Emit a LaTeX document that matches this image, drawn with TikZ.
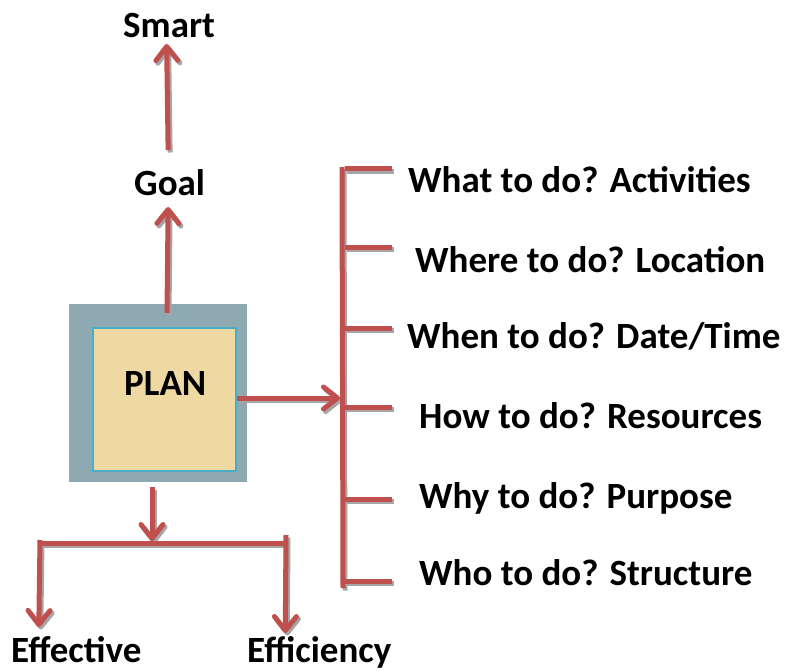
\documentclass[tikz,border=0pt]{standalone}
\usepackage{fontspec}
\setmainfont{Carlito}
\usetikzlibrary{arrows.meta,calc}
\definecolor{lnred}{HTML}{C0504D}
\definecolor{shad}{HTML}{A6A6A6}
\definecolor{outerc}{HTML}{8EA9B1}
\definecolor{paper}{HTML}{EFD9A3}
\definecolor{bord}{HTML}{4BACC6}
\tikzset{
  lbl/.style={anchor=base west, inner sep=0pt, font=\fontsize{37}{42}\selectfont\bfseries},
  ln/.style={line width=5pt, lnc},
  lnc/.style={draw=lnred},
  arr/.style={-{Straight Barb[length=14pt,width=22pt,round]}},
}
\newcommand\allconns{%
  \draw[ln,arr] ($(goal.base)+(-1.5,-45)$) -- ($(smart.base)+(-2.5,6)$);
  \draw[ln,arr] ($(outer.north)+(9,9)$) -- ($(goal.base)+(-1.5,12)$);
  \draw[ln,arr] ($(plan.east)+(0,-1.5)$) -- (brIn);
  \draw[ln] (brTop) -- (brBot);
  \foreach \i in {1,...,6}{\draw[ln] (tkA\i) -- (tkB\i);}
  \draw[ln,arr] ($(outer.south)+(-6,5)$) -- (split);
  \draw[ln] (barL) -- (barR);
  \draw[ln,arr] (barLt) -- ($(effective.base)+(-37.5,-35)$);
  \draw[ln,arr] (barRt) -- ($(efficiency.base)+(-34,-29)$);
}
\begin{document}
\begin{tikzpicture}[x=1pt,y=-1pt]
\useasboundingbox (0,0) rectangle (786,671);
% boxes
\node[fill=outerc, minimum width=178pt, minimum height=178pt, inner sep=0pt] (outer) at (158,393) {};
\node[fill=paper, draw=bord, line width=2.5pt, minimum width=143pt, minimum height=143pt, inner sep=0pt] (plan) at (164.5,399.5) {};
\node[lbl] (plantext) at (124,395) {PLAN};
% labels
\node[lbl] (smart) at (123,38) {Smart};
\node[lbl] (goal) at (134,195) {Goal};
\node[lbl] (t1) at (408,192) {What to do? Activities};
\node[lbl] (t2) at (415,272) {Where to do? Location};
\node[lbl] (t3) at (407,348) {When to do? Date/Time};
\node[lbl] (t4) at (419,428) {How to do? Resources};
\node[lbl] (t5) at (419,508) {Why to do? Purpose};
\node[lbl] (t6) at (419,585) {Who to do? Structure};
\node[lbl] (effective) at (11,662) {Effective};
\node[lbl] (efficiency) at (247,662) {Efficiency};
% coordinates
\coordinate (brIn) at (340,398);
\coordinate (brTop) at (342,167);
\coordinate (brBot) at (343,588);
\foreach \i/\y in {1/169,2/247,3/328,4/407,5/499,6/581}{
  \coordinate (tkA\i) at (345,\y);
  \coordinate (tkB\i) at (392,\y);
}
\coordinate (split) at (152,541);
\coordinate (barL) at (38,543);
\coordinate (barR) at (288,543);
\coordinate (barLt) at (40,540);
\coordinate (barRt) at (286,535);
% shadows
\begin{scope}[transform canvas={shift={(2pt,-2.5pt)}}, lnc/.style={draw=shad}]
  \allconns
\end{scope}
\allconns
\end{tikzpicture}
\end{document}
